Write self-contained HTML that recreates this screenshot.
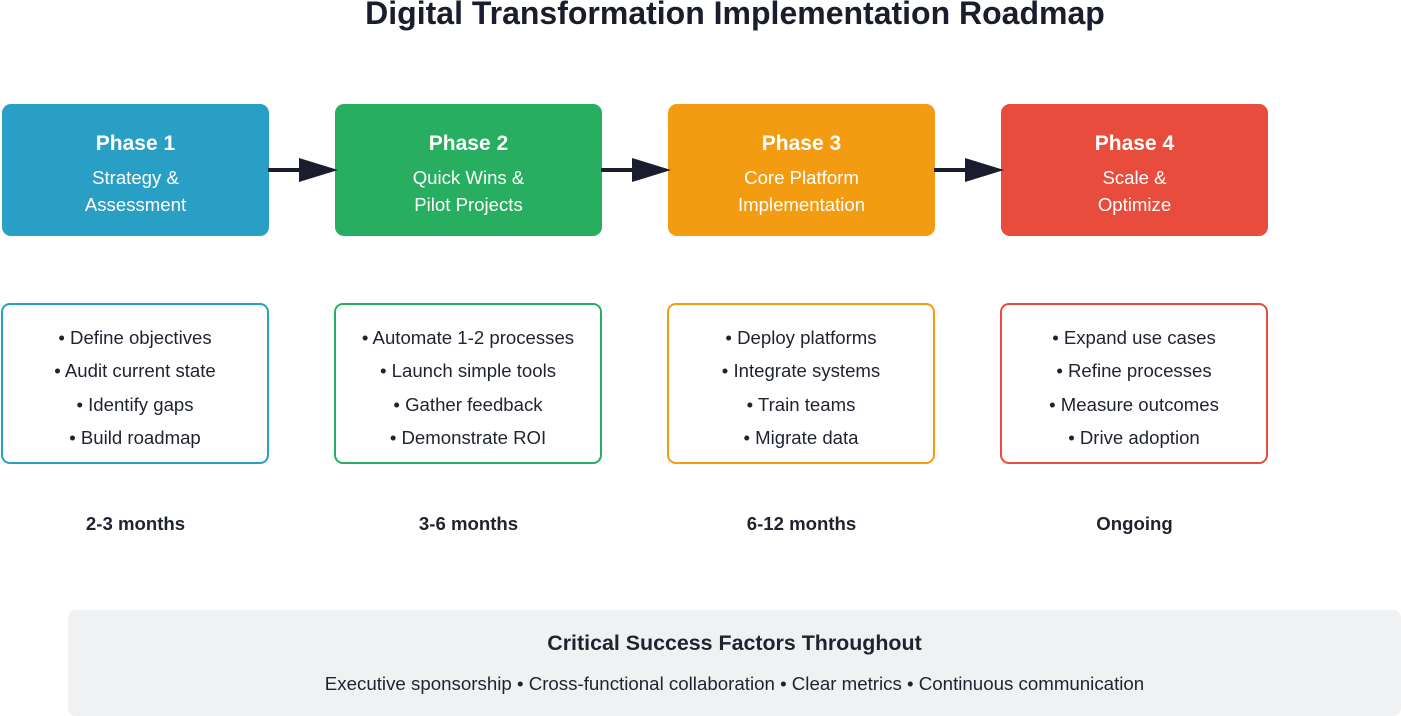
<!DOCTYPE html>
<html><head><meta charset="utf-8"><style>
body{margin:0;width:1401px;height:716px;background:#fff;font-family:"Liberation Sans",sans-serif;position:relative;overflow:hidden;color:#1f2330}
.t{position:absolute;left:0;width:1470px;text-align:center;top:-5px;font-size:32px;font-weight:bold;color:#1a1d2e}
.p{position:absolute;top:104px;width:267px;height:132px;border-radius:9px;color:#fff;text-align:center}
.p b{display:block;margin-top:28px;font-size:21px}
.p div{font-size:18.6px;line-height:27px;margin-top:8px}
.d{position:absolute;top:303px;width:264px;border:2px solid;border-radius:9px;background:#fff;text-align:center;font-size:18.6px;line-height:33.3px;padding-top:16px;box-sizing:content-box;height:141px}
.m{position:absolute;top:513px;width:267px;text-align:center;font-weight:bold;font-size:18.6px;color:#1f2330}
.f{position:absolute;left:68px;top:610px;width:1333px;height:106px;background:#f0f1f3;border-radius:8px;text-align:center}
</style></head><body>
<div class="t">Digital Transformation Implementation Roadmap</div>
<div class="p" style="left:2px;background:#2a9fc5"><b>Phase 1</b><div>Strategy &amp;<br>Assessment</div></div>
<div class="p" style="left:335px;background:#27ae60"><b>Phase 2</b><div>Quick Wins &amp;<br>Pilot Projects</div></div>
<div class="p" style="left:668px;background:#f39c12"><b>Phase 3</b><div>Core Platform<br>Implementation</div></div>
<div class="p" style="left:1001px;background:#e74c3c"><b>Phase 4</b><div>Scale &amp;<br>Optimize</div></div>
<svg style="position:absolute;left:0;top:0" width="1401" height="716">
<g fill="#1a1d2e" stroke="#1a1d2e">
<line x1="268" y1="170" x2="302" y2="170" stroke-width="4"/><polygon points="299,158 338,170 299,182" stroke="none"/>
<line x1="601" y1="170" x2="635" y2="170" stroke-width="4"/><polygon points="632,158 671,170 632,182" stroke="none"/>
<line x1="934" y1="170" x2="968" y2="170" stroke-width="4"/><polygon points="965,158 1004,170 965,182" stroke="none"/>
</g></svg>
<div class="d" style="left:1px;border-color:#2a9fc5">• Define objectives<br>• Audit current state<br>• Identify gaps<br>• Build roadmap</div>
<div class="d" style="left:334px;border-color:#27ae60">• Automate 1-2 processes<br>• Launch simple tools<br>• Gather feedback<br>• Demonstrate ROI</div>
<div class="d" style="left:667px;border-color:#f39c12">• Deploy platforms<br>• Integrate systems<br>• Train teams<br>• Migrate data</div>
<div class="d" style="left:1000px;border-color:#e74c3c">• Expand use cases<br>• Refine processes<br>• Measure outcomes<br>• Drive adoption</div>
<div class="m" style="left:2px">2-3 months</div>
<div class="m" style="left:335px">3-6 months</div>
<div class="m" style="left:668px">6-12 months</div>
<div class="m" style="left:1001px">Ongoing</div>
<div class="f"><div style="font-weight:bold;font-size:21.4px;margin-top:21px">Critical Success Factors Throughout</div><div style="font-size:18.7px;margin-top:17px">Executive sponsorship • Cross-functional collaboration • Clear metrics • Continuous communication</div></div>
</body></html>
